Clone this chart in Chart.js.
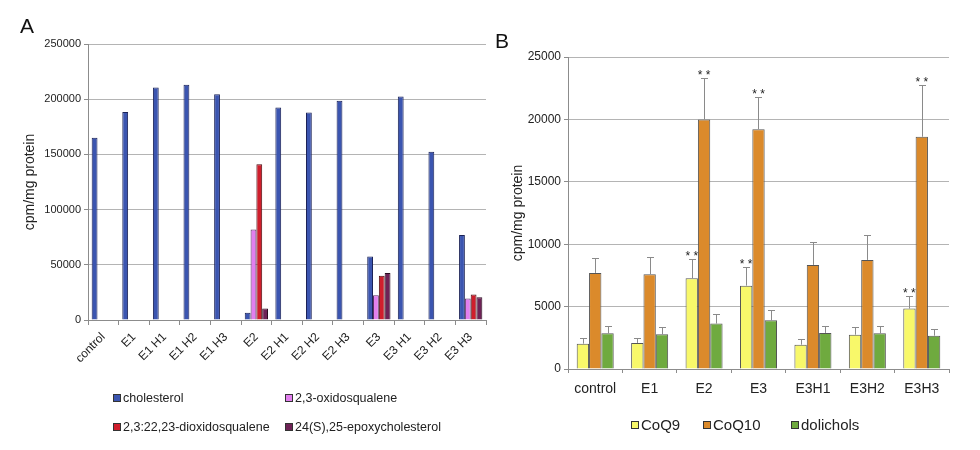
<!DOCTYPE html>
<html>
<head>
<meta charset="utf-8">
<script src="https://cdn.jsdelivr.net/npm/chart.js@4.4.1/dist/chart.umd.min.js"></script>
<style>
  body { margin: 0; background: #fff; font-family: "Liberation Sans", Arial, sans-serif; }
  #wrap { position: relative; width: 980px; height: 450px; overflow: hidden; }
  canvas { position: absolute; top: 0; }
  #chartA { left: 0; }
  #chartB { left: 490px; }
  .panel { position: absolute; font-size: 21px; line-height: 24px; color: #111; }
</style>
</head>
<body>
<div id="wrap">
  <canvas id="chartA" width="490" height="450"></canvas>
  <canvas id="chartB" width="490" height="450"></canvas>
  <div class="panel" style="left:20px;top:14px">A</div>
  <div class="panel" style="left:495px;top:29px">B</div>
</div>
<script>
// Panel A - sterols
const catsA = ['control', 'E1', 'E1 H1', 'E1 H2', 'E1 H3', 'E2', 'E2 H1', 'E2 H2', 'E2 H3', 'E3', 'E3 H1', 'E3 H2', 'E3 H3'];
const cholesterol = [165000, 188500, 210500, 213000, 204500, 6500, 192500, 188000, 198500, 57500, 202500, 152500, 77000];
const oxidosqualene = [null, null, null, null, null, 82000, null, null, null, 22500, null, null, 19500];
const dioxidosqualene = [null, null, null, null, null, 141000, null, null, null, 40000, null, null, 23000];
const epoxycholesterol = [null, null, null, null, null, 10500, null, null, null, 42500, null, null, 20500];
const maxA = 250000;
const stepA = 50000;

// Panel B - CoQ and dolichols
const catsB = ['control', 'E1', 'E2', 'E3', 'E3H1', 'E3H2', 'E3H3'];
const coq9 = [2030, 2090, 7270, 6680, 1950, 2750, 4840];
const coq9Err = [480, 420, 1580, 1530, 430, 590, 1040];
const coq10 = [7700, 7590, 20000, 19220, 8340, 8740, 18610];
const coq10Err = [1200, 1390, 3340, 2540, 1850, 1960, 4140];
const dolichols = [2860, 2780, 3640, 3900, 2890, 2860, 2670];
const dolicholsErr = [620, 620, 800, 860, 590, 620, 570];
const sigCoq9 = [false, false, true, true, false, false, true];
const sigCoq10 = [false, false, true, true, false, false, true];
const maxB = 25000;
const stepB = 5000;

const FONT = '"Liberation Sans", Arial, sans-serif';
const gridColor = '#b4b4b4';
const axisColor = '#8c8c8c';

// error bars + asterisks
const errorBars = {
  id: 'errorBars',
  afterDatasetsDraw(chart) {
    const ctx = chart.ctx;
    const y = chart.scales.y;
    chart.data.datasets.forEach((ds, i) => {
      if (!ds.errors) return;
      const meta = chart.getDatasetMeta(i);
      meta.data.forEach((bar, j) => {
        const top = y.getPixelForValue(ds.data[j] + ds.errors[j]);
        const bx = Math.round(bar.x) + 0.5;
        const ty = Math.round(top) + 0.5;
        ctx.save();
        ctx.strokeStyle = '#8a8a8a';
        ctx.lineWidth = 1;
        ctx.beginPath();
        ctx.moveTo(bx, bar.y);
        ctx.lineTo(bx, ty);
        ctx.moveTo(bx - 3.5, ty);
        ctx.lineTo(bx + 3.5, ty);
        ctx.stroke();
        if (ds.sig && ds.sig[j]) {
          ctx.fillStyle = '#222';
          ctx.font = '12px ' + FONT;
          ctx.textAlign = 'center';
          ctx.textBaseline = 'alphabetic';
          ctx.fillText('* *', bar.x, top + 1);
        }
        ctx.restore();
      });
    });
  }
};

// custom legend drawn from the datasets
const boxLegend = {
  id: 'boxLegend',
  afterDraw(chart, args, opts) {
    const ctx = chart.ctx;
    ctx.save();
    ctx.font = opts.fontSize + 'px ' + FONT;
    ctx.textBaseline = 'middle';
    ctx.textAlign = 'left';
    chart.data.datasets.forEach((ds, i) => {
      const [x, yy] = opts.positions[i];
      ctx.fillStyle = ds.backgroundColor;
      ctx.fillRect(x, yy - 4, 8, 8);
      ctx.strokeStyle = '#333';
      ctx.lineWidth = 1;
      ctx.strokeRect(x + 0.5, yy - 3.5, 7, 7);
      ctx.fillStyle = '#222';
      ctx.fillText(ds.label, x + 10, yy + 1);
    });
    ctx.restore();
  }
};

const plainNumber = v => String(v);

new Chart(document.getElementById('chartA'), {
  type: 'bar',
  data: {
    labels: catsA,
    datasets: [
      { label: 'cholesterol', data: cholesterol, backgroundColor: '#3b55b0', borderColor: '#1b2256' },
      { label: '2,3-oxidosqualene', data: oxidosqualene, backgroundColor: '#e27fef', borderColor: '#5a3060' },
      { label: '2,3:22,23-dioxidosqualene', data: dioxidosqualene, backgroundColor: '#d01e2c', borderColor: '#4a0c10' },
      { label: '24(S),25-epoxycholesterol', data: epoxycholesterol, backgroundColor: '#6e2256', borderColor: '#2a0c20' }
    ]
  },
  options: {
    responsive: false,
    animation: false,
    layout: { padding: { left: 18, top: 44, right: 4, bottom: 0 } },
    datasets: { bar: { borderWidth: 1, categoryPercentage: 0.76, barPercentage: 1, borderSkipped: 'bottom' } },
    plugins: {
      legend: { display: false },
      tooltip: { enabled: false },
      boxLegend: { fontSize: 12.5, positions: [[113, 398], [285, 398], [113, 427], [285, 427]] }
    },
    scales: {
      x: {
        afterFit(s) { s.height = 130; },
        grid: { display: true, drawOnChartArea: false, drawTicks: true, tickLength: 5, offset: true, color: axisColor },
        border: { display: true, color: axisColor },
        ticks: { color: '#222', font: { family: FONT, size: 12 }, minRotation: 45, maxRotation: 45, padding: 5, autoSkip: false }
      },
      y: {
        min: 0, max: maxA,
        afterFit(s) { s.width = 70; },
        grid: { color: gridColor, tickLength: 4, tickColor: axisColor },
        border: { display: true, color: axisColor },
        ticks: { stepSize: stepA, color: '#222', font: { family: FONT, size: 11 }, padding: 3, callback: plainNumber },
        title: { display: true, text: 'cpm/mg protein', color: '#222', font: { family: FONT, size: 14 } }
      }
    }
  },
  plugins: [boxLegend]
});

new Chart(document.getElementById('chartB'), {
  type: 'bar',
  data: {
    labels: catsB,
    datasets: [
      { label: 'CoQ9', data: coq9, errors: coq9Err, sig: sigCoq9, backgroundColor: '#f8f86a' },
      { label: 'CoQ10', data: coq10, errors: coq10Err, sig: sigCoq10, backgroundColor: '#db8a2b' },
      { label: 'dolichols', data: dolichols, errors: dolicholsErr, backgroundColor: '#6faa3f' }
    ]
  },
  options: {
    responsive: false,
    animation: false,
    layout: { padding: { left: 16, top: 57, right: 31, bottom: 0 } },
    datasets: { bar: { borderWidth: 1, borderColor: '#555', categoryPercentage: 0.68, barPercentage: 1 } },
    plugins: {
      legend: { display: false },
      tooltip: { enabled: false },
      boxLegend: { fontSize: 15, positions: [[141, 425], [213, 425], [301, 425]] }
    },
    scales: {
      x: {
        afterFit(s) { s.height = 81; },
        grid: { display: true, drawOnChartArea: false, drawTicks: true, tickLength: 4, offset: true, color: axisColor },
        border: { display: true, color: axisColor },
        ticks: { color: '#222', font: { family: FONT, size: 14 }, maxRotation: 0, padding: 8, autoSkip: false }
      },
      y: {
        min: 0, max: maxB,
        afterFit(s) { s.width = 62; },
        grid: { color: gridColor, tickLength: 4, tickColor: axisColor },
        border: { display: true, color: axisColor },
        ticks: { stepSize: stepB, color: '#222', font: { family: FONT, size: 12 }, padding: 3, callback: plainNumber },
        title: { display: true, text: 'cpm/mg protein', color: '#222', font: { family: FONT, size: 14 } }
      }
    }
  },
  plugins: [errorBars, boxLegend]
});
</script>
</body>
</html>
